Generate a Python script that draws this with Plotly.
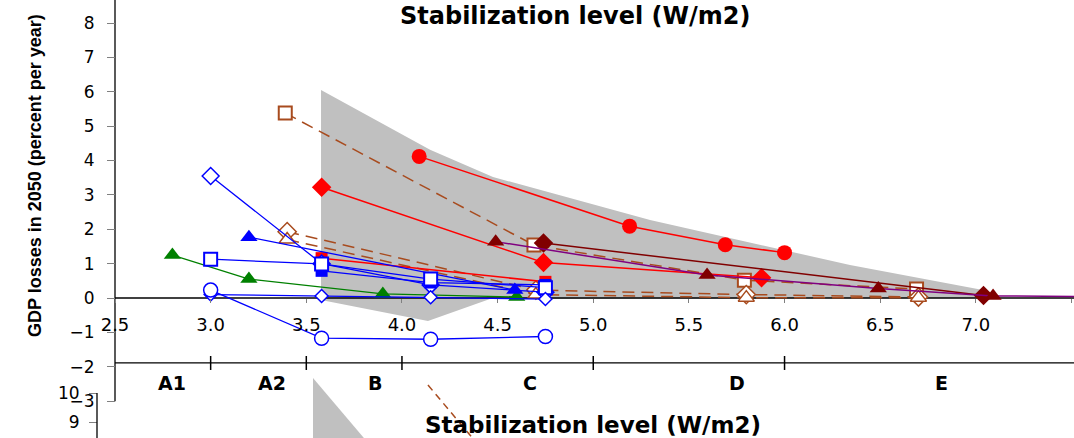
import plotly.graph_objects as go

# ---------------- data (top panel) ----------------
band_x = [3.577, 4.147, 4.476, 4.894, 5.297, 6.342, 7.037, 7.058, 4.46, 4.136, 3.577]
band_y = [6.05, 4.31, 3.52, 2.88, 2.27, 0.96, 0.23, 0.0, -0.03, -0.67, -0.06]

red_circle_x = [4.09, 5.19, 5.69, 6.0]
red_circle_y = [4.12, 2.09, 1.55, 1.32]

red_diamond_x = [3.58, 4.74, 5.88]
red_diamond_y = [3.22, 1.03, 0.59]

red_square_x = [3.58, 4.75]
red_square_y = [1.16, 0.47]

brown_square_x = [3.39, 4.69, 5.79, 6.69]
brown_square_y = [5.38, 1.54, 0.52, 0.26]

brown_diamond_x = [3.40, 4.70, 5.80, 6.70]
brown_diamond_y = [1.93, 0.23, 0.10, 0.03]

brown_triangle_x = [3.40, 4.70, 5.80, 6.70]
brown_triangle_y = [1.70, 0.10, 0.01, 0.01]

blue_odiamond_x = [3.0, 3.58, 4.15, 4.75]
blue_odiamond_y = [3.55, 1.0, 0.38, 0.17]

blue_osquare_x = [3.0, 3.58, 4.15, 4.75]
blue_osquare_y = [1.13, 0.99, 0.55, 0.30]

blue_fsquare_x = [3.58, 4.15, 4.75]
blue_fsquare_y = [0.79, 0.45, 0.38]

blue_triangle_x = [3.2, 4.59]
blue_triangle_y = [1.77, 0.23]

blue_ocircle_x = [3.0, 3.58, 4.15, 4.75]
blue_ocircle_y = [0.23, -1.17, -1.20, -1.12]

blue_sdiamond_x = [3.0, 3.58, 4.15, 4.75]
blue_sdiamond_y = [0.10, 0.06, 0.02, -0.03]

green_x = [2.8, 3.2, 3.9, 4.6]
green_y = [1.25, 0.55, 0.12, 0.03]

maroon_diamond_x = [4.74, 7.04]
maroon_diamond_y = [1.60, 0.07]

maroon_triangle_x = [4.49, 5.595, 6.49, 7.09, 7.6]
maroon_triangle_y = [1.64, 0.67, 0.28, 0.06, 0.04]

# axes / labels
x_ticks = [2.5, 3.0, 3.5, 4.0, 4.5, 5.0, 5.5, 6.0, 6.5, 7.0, 7.5]
x_ticktext = ["2.5", "3.0", "3.5", "4.0", "4.5", "5.0", "5.5", "6.0", "6.5", "7.0", "7.5"]
y_ticks = [-3, -2, -1, 0, 1, 2, 3, 4, 5, 6, 7, 8]
cat_labels = ["A1", "A2", "B", "C", "D", "E"]
cat_label_x = [2.80, 3.32, 3.86, 4.67, 5.75, 6.82]
cat_bounds = [3.0, 3.5, 4.0, 5.0, 6.0]
cat_line_y = -1.89
cat_label_y = -2.47

# bottom (next) panel, partially visible
y2_ticks = [9, 10]
panel2_band_x = [3.535, 3.535, 3.833]
panel2_band_y = [10.52, 8.2, 8.2]
panel2_dash_x = [4.136, 4.40]
panel2_dash_y = [10.276, 8.2]

# ---------------- geometry (screen pixels; page body margin removed) ----------------
W, H = 1074, 438
PX_PER_X = 191.3
X0_PX = 115          # x = 2.5
Y0_PX = 298          # y = 0
PX_PER_Y = 34.375
x_range = [2.5 - X0_PX / PX_PER_X, 2.5 + (W - X0_PX) / PX_PER_X]
y_range = [(Y0_PX - H) / PX_PER_Y, Y0_PX / PX_PER_Y]

# second panel's y axis: 10 at screen y=393, 9 at 422
Y2_10 = 393
PX_PER_Y2 = 29.0
Y2_DOM_TOP = 0.16
y2_top_px = H - Y2_DOM_TOP * H
y2_range = [10 - (H - Y2_10) / PX_PER_Y2, 10 + (Y2_10 - y2_top_px) / PX_PER_Y2]
Y2_LINE_X = 97 / W

def px(xs):
    return xs / W

def py(ys):
    return (H - ys) / H

RED = "#FF0000"
BLUE = "#0000FF"
GREEN = "#008000"
BROWN = "#A84B1E"
MAROON = "#800000"
PURPLE = "#800080"
GRAY = "#C0C0C0"
DASH = "12px,7px"

fig = go.Figure()

def add(x, y, **kw):
    kw.setdefault("hoverinfo", "skip")
    fig.add_trace(go.Scatter(x=x, y=y, **kw))

# gray envelope
add(band_x, band_y, mode="lines", fill="toself", fillcolor=GRAY, line=dict(width=0, color=GRAY))

# axis lines (drawn over the band)
add([2.5, x_range[1] + 1], [0, 0], mode="lines", line=dict(color="black", width=1.3))
add([2.5, x_range[1] + 1], [cat_line_y, cat_line_y], mode="lines", line=dict(color="black", width=1.3))
add([2.5, 2.5], [-3, y_range[1] + 1], mode="lines", line=dict(color="black", width=1.3))
add(cat_bounds, [cat_line_y] * len(cat_bounds), mode="markers",
    marker=dict(symbol="line-ns", size=10, line=dict(color="black", width=1.5)))

# brown dashed series
add(brown_square_x, brown_square_y, mode="lines+markers",
    line=dict(color=BROWN, width=1.5, dash=DASH),
    marker=dict(symbol="square", size=13, color="white", line=dict(color=BROWN, width=2)))
add(brown_diamond_x, brown_diamond_y, mode="lines+markers",
    line=dict(color=BROWN, width=1.5, dash=DASH),
    marker=dict(symbol="diamond", size=14, color="white", line=dict(color=BROWN, width=1.5)))
add(brown_triangle_x, brown_triangle_y, mode="lines+markers",
    line=dict(color=BROWN, width=1.5, dash=DASH),
    marker=dict(symbol="triangle-up", size=14, color="white", line=dict(color=BROWN, width=1.5)))

# red series
add(red_circle_x, red_circle_y, mode="lines+markers", line=dict(color=RED, width=1.5),
    marker=dict(symbol="circle", size=15, color=RED))
add(red_diamond_x, red_diamond_y, mode="lines+markers", line=dict(color=RED, width=1.5),
    marker=dict(symbol="diamond", size=15, color=RED))
add(red_square_x, red_square_y, mode="lines+markers", line=dict(color=RED, width=1.5),
    marker=dict(symbol="square", size=12, color=RED))

# maroon / purple series
add(maroon_diamond_x, maroon_diamond_y, mode="lines+markers", line=dict(color=MAROON, width=1.5),
    marker=dict(symbol="diamond", size=15, color=MAROON))
add(maroon_triangle_x, maroon_triangle_y, mode="lines+markers", line=dict(color=PURPLE, width=1.5),
    marker=dict(symbol="triangle-up", size=15, color=MAROON))

# green
add(green_x, green_y, mode="lines+markers", line=dict(color=GREEN, width=1.3),
    marker=dict(symbol="triangle-up", size=15, color=GREEN))

# blue series
add(blue_triangle_x, blue_triangle_y, mode="lines+markers", line=dict(color=BLUE, width=1.3),
    marker=dict(symbol="triangle-up", size=15, color=BLUE))
add(blue_odiamond_x, blue_odiamond_y, mode="lines+markers", line=dict(color=BLUE, width=1.3),
    marker=dict(symbol="diamond", size=13, color="white", line=dict(color=BLUE, width=1.5)))
add(blue_fsquare_x, blue_fsquare_y, mode="lines+markers", line=dict(color=BLUE, width=1.3),
    marker=dict(symbol="square", size=12, color=BLUE))
add(blue_osquare_x, blue_osquare_y, mode="lines+markers", line=dict(color=BLUE, width=1.3),
    marker=dict(symbol="square", size=13, color="white", line=dict(color=BLUE, width=2)))
add(blue_sdiamond_x, blue_sdiamond_y, mode="lines+markers", line=dict(color=BLUE, width=1.3),
    marker=dict(symbol="diamond", size=10, color="white", line=dict(color=BLUE, width=1.5)))
add(blue_ocircle_x, blue_ocircle_y, mode="lines+markers", line=dict(color=BLUE, width=1.3),
    marker=dict(symbol="circle", size=14, color="white", line=dict(color=BLUE, width=1.5)))

# bottom panel pieces
add(panel2_band_x, panel2_band_y, yaxis="y2", mode="lines", fill="toself", fillcolor=GRAY,
    line=dict(width=0, color=GRAY))
add(panel2_dash_x, panel2_dash_y, yaxis="y2", mode="lines",
    line=dict(color=BROWN, width=1.5, dash="7px,5px"))

fig.add_shape(type="line", xref="paper", yref="y2", x0=Y2_LINE_X, x1=Y2_LINE_X, y0=10, y1=y2_range[0],
              line=dict(color="black", width=1.3))

# category labels
for lab, xv in zip(cat_labels, cat_label_x):
    fig.add_annotation(x=xv, y=cat_label_y, xref="x", yref="y", text=lab, showarrow=False,
                       xanchor="center", yanchor="middle",
                       font=dict(family="DejaVu Sans", size=19, color="black", weight="bold"))

# titles
fig.add_annotation(x=px(575), y=py(16), xref="paper", yref="paper",
                   xanchor="center", yanchor="middle",
                   text="<b>Stabilization level (W/m2)</b>", showarrow=False,
                   font=dict(family="DejaVu Sans", size=24, color="black"))
fig.add_annotation(x=px(593), y=py(425), xref="paper", yref="paper",
                   xanchor="center", yanchor="middle",
                   text="<b>Stabilization level (W/m2)</b>", showarrow=False,
                   font=dict(family="DejaVu Sans", size=23, color="black"))
fig.add_annotation(x=px(35), y=py(176), xref="paper", yref="paper", textangle=-90,
                   xanchor="center", yanchor="middle",
                   text="<b>GDP losses in 2050 (percent per year)</b>", showarrow=False,
                   font=dict(family="Liberation Sans, Arial", size=18, color="black"))

fig.update_layout(
    width=W, height=H,
    margin=dict(l=0, r=0, t=0, b=0, autoexpand=False),
    paper_bgcolor="white",
    plot_bgcolor="rgba(0,0,0,0)",
    showlegend=False,
    xaxis=dict(range=x_range, showgrid=False, zeroline=False, showline=False,
               anchor="free", position=(H - Y0_PX) / H, automargin=False,
               ticks="outside", ticklen=4, tickcolor="#808080", tickwidth=1.3,
               tickvals=x_ticks, ticktext=x_ticktext, ticklabelstandoff=6,
               tickfont=dict(family="DejaVu Sans", size=18, color="black")),
    yaxis=dict(range=y_range, domain=[0, 1], showgrid=False, zeroline=False, showline=False,
               anchor="free", position=X0_PX / W, automargin=False,
               ticks="outside", ticklen=8, tickcolor="#808080", tickwidth=1.3,
               tickvals=y_ticks, ticklabelstandoff=9,
               tickfont=dict(family="DejaVu Sans", size=17, color="black")),
    yaxis2=dict(range=y2_range, domain=[0, Y2_DOM_TOP], showgrid=False, zeroline=False, showline=False,
                anchor="free", position=Y2_LINE_X, automargin=False,
                ticks="outside", ticklen=8, tickcolor="#808080", tickwidth=1.3,
                tickvals=y2_ticks, ticklabelstandoff=6,
                tickfont=dict(family="DejaVu Sans", size=17, color="black")),
)

fig.write_html("out.html", config={"displayModeBar": False},
               post_script="document.body.style.margin='0px';")
